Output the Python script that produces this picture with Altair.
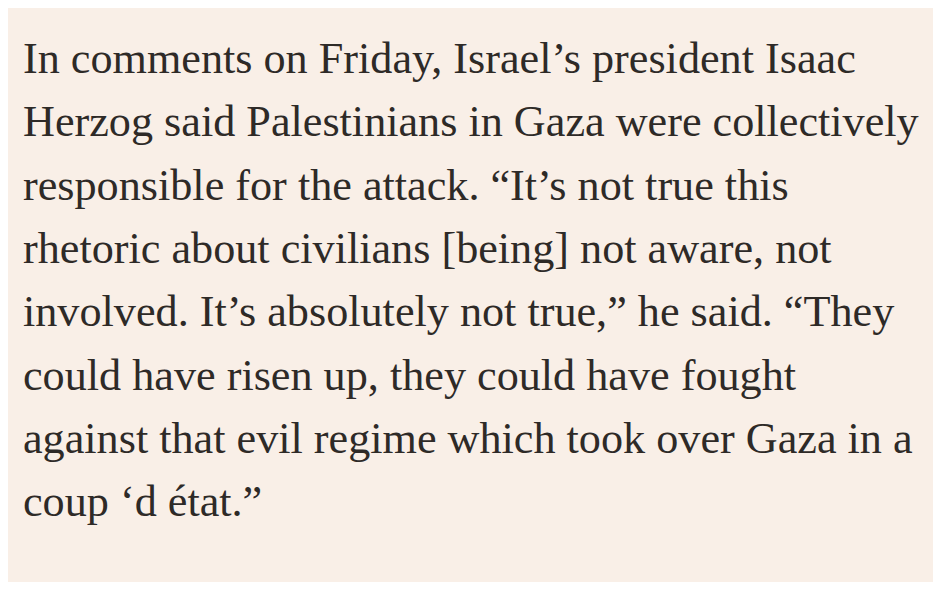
import altair as alt
import pandas as pd

lines = [
    "In comments on Friday, Israel\u2019s president Isaac",
    "Herzog said Palestinians in Gaza were collectively",
    "responsible for the attack. \u201cIt\u2019s not true this",
    "rhetoric about civilians [being] not aware, not",
    "involved. It\u2019s absolutely not true,\u201d he said. \u201cThey",
    "could have risen up, they could have fought",
    "against that evil regime which took over Gaza in a",
    "coup \u2018d \u00e9tat.\u201d",
]
line_index = list(range(len(lines)))
x_start = [0] * len(lines)

df = pd.DataFrame({"text": lines, "line": line_index, "x": x_start})

W, H = 925, 574

chart = alt.Chart(df).mark_text(
    align="left",
    baseline="alphabetic",
    font="Liberation Serif",
    fontSize=44.2,
    color="#2e2a27",
).encode(
    x=alt.X("x:Q", scale=alt.Scale(domain=[-15, W - 15]), axis=None),
    y=alt.Y("line:Q", scale=alt.Scale(domain=[-1.03, 8.04], reverse=True), axis=None),
    text="text:N",
).properties(
    width=W, height=H, background="#f9efe7", padding=0
).configure_view(strokeWidth=0).properties(autosize="none")

chart.save("out.html", embed_options={"renderer": "svg", "actions": False})
